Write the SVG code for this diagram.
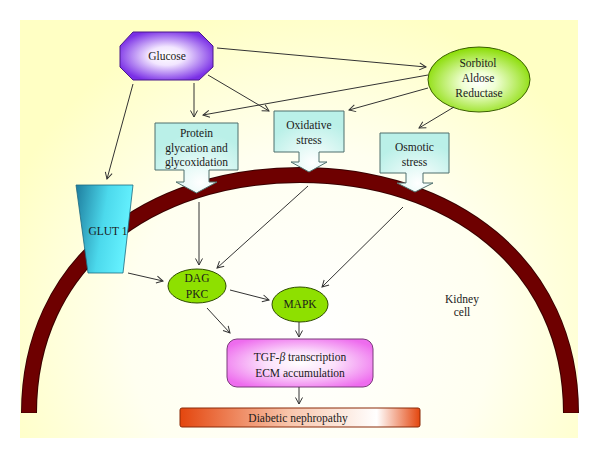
<svg xmlns="http://www.w3.org/2000/svg" width="600" height="459" viewBox="0 0 600 459">
<defs>
<style>
text{font-family:"Liberation Serif","Times New Roman",serif;font-size:11.5px;fill:#1a1a1a;text-anchor:middle}
.ln{stroke:#333;stroke-width:1;fill:none;marker-end:url(#ah)}
.box{fill:url(#gBox);stroke:#4f6f6c;stroke-width:1}
.grn{fill:#8ee000;stroke:#2f4d00;stroke-width:1}
</style>
<marker id="ah" markerUnits="userSpaceOnUse" markerWidth="10" markerHeight="10" refX="7" refY="4" orient="auto" viewBox="0 0 10 8">
<path d="M0.5,0.5 L7,4 L0.5,7.5" fill="none" stroke="#333" stroke-width="1"/>
</marker>
<radialGradient id="gBg" cx="310" cy="330" r="330" gradientUnits="userSpaceOnUse">
<stop offset="0" stop-color="#ffffff"/>
<stop offset="0.55" stop-color="#fffff0"/>
<stop offset="1" stop-color="#ffffc4"/>
</radialGradient>
<radialGradient id="gGlu" cx="0.5" cy="0.5" r="0.55">
<stop offset="0" stop-color="#ffffff"/>
<stop offset="0.35" stop-color="#f2e6ff"/>
<stop offset="1" stop-color="#7a2fe6"/>
</radialGradient>
<radialGradient id="gSor" cx="0.5" cy="0.55" r="0.55">
<stop offset="0" stop-color="#ffffff"/>
<stop offset="0.3" stop-color="#f0ffd4"/>
<stop offset="1" stop-color="#88dc00"/>
</radialGradient>
<radialGradient id="gBox" cx="0.55" cy="0.85" r="0.7">
<stop offset="0" stop-color="#ffffff"/>
<stop offset="1" stop-color="#baf0e8"/>
</radialGradient>
<linearGradient id="gGlut" x1="0" y1="0" x2="1" y2="0.25">
<stop offset="0" stop-color="#1e7d9e"/>
<stop offset="0.55" stop-color="#4cd9ec"/>
<stop offset="1" stop-color="#66f2ff"/>
</linearGradient>
<radialGradient id="gTgf" cx="0.5" cy="0.5" r="0.6">
<stop offset="0" stop-color="#ffffff"/>
<stop offset="0.4" stop-color="#fbe0fb"/>
<stop offset="1" stop-color="#ee6cee"/>
</radialGradient>
<linearGradient id="gDia" x1="0" y1="0" x2="1" y2="0">
<stop offset="0" stop-color="#e4460e"/>
<stop offset="0.45" stop-color="#f8c4aa"/>
<stop offset="0.82" stop-color="#ffffff"/>
<stop offset="1" stop-color="#e4460e"/>
</linearGradient>
</defs>

<rect x="20" y="20" width="558" height="418" fill="url(#gBg)"/>

<g id="membrane">
<path d="M29,413 C29,263 150,175 300,175 C450,175 571,263 571,413" fill="none" stroke="#3a0000" stroke-width="16"/>
<path d="M29,412.5 C29,263 150,175 300,175 C450,175 571,263 571,412.5" fill="none" stroke="#6e0000" stroke-width="14"/>
</g>

<g id="glucose">
<polygon points="133,32 199,32 213,46 213,67 199,80 133,80 120,67 120,46" fill="url(#gGlu)" stroke="#4b1a8a" stroke-width="1"/>
<text x="167" y="60">Glucose</text>
</g>

<g id="sorbitol">
<ellipse cx="479" cy="79.5" rx="51" ry="32.5" fill="url(#gSor)" stroke="#3a5f00" stroke-width="1"/>
<text x="478" y="67">Sorbitol</text>
<text x="478" y="82">Aldose</text>
<text x="479" y="97">Reductase</text>
</g>

<g id="protein">
<path class="box" d="M155,123 H238 V170 H209 V182 H217 L196.5,193 L176,182 H184 V170 H155 Z"/>
<text x="196.5" y="137">Protein</text>
<text x="196.5" y="152">glycation and</text>
<text x="196.5" y="166">glycoxidation</text>
</g>

<g id="oxidative">
<path class="box" d="M274,111 H344 V152 H319 V162 H327 L309,172 L291,162 H299 V152 H274 Z"/>
<text x="309" y="129">Oxidative</text>
<text x="309" y="144">stress</text>
</g>

<g id="osmotic">
<path class="box" d="M380,133 H449 V173 H423 V183 H433 L415,192 L397,183 H406 V173 H380 Z"/>
<text x="414.5" y="151">Osmotic</text>
<text x="414.5" y="166">stress</text>
</g>

<g id="glut1">
<polygon points="76,185 133,185 123,273 88,273" fill="url(#gGlut)" stroke="#1c6a80" stroke-width="0.8"/>
<text x="108" y="235">GLUT 1</text>
</g>

<g id="dagpkc">
<ellipse class="grn" cx="197" cy="286" rx="29" ry="17"/>
<text x="197" y="282">DAG</text>
<text x="197" y="298">PKC</text>
</g>

<g id="mapk">
<ellipse class="grn" cx="300" cy="304.5" rx="28" ry="17.5"/>
<text x="300" y="308">MAPK</text>
</g>

<g id="tgf">
<rect x="227" y="339" width="146" height="48" rx="10" ry="10" fill="url(#gTgf)" stroke="#7a3a7a" stroke-width="1"/>
<text x="300" y="361">TGF-<tspan font-style="italic">β</tspan> transcription</text>
<text x="300" y="377">ECM accumulation</text>
</g>

<g id="nephropathy">
<rect x="180" y="408" width="240" height="19" rx="2" fill="url(#gDia)" stroke="#8a2a08" stroke-width="1"/>
<text x="298" y="422">Diabetic nephropathy</text>
</g>

<g id="kidney">
<text x="462" y="303">Kidney</text>
<text x="462" y="316">cell</text>
</g>

<g id="connectors">
<line class="ln" x1="217" y1="48" x2="426" y2="67"/>
<line class="ln" x1="428" y1="75" x2="203" y2="115"/>
<line class="ln" x1="428" y1="88" x2="349" y2="110"/>
<line class="ln" x1="194" y1="83" x2="194" y2="117"/>
<line class="ln" x1="208" y1="75" x2="269" y2="111"/>
<line class="ln" x1="454" y1="107" x2="419" y2="128"/>
<line class="ln" x1="133" y1="84" x2="107" y2="179"/>
<line class="ln" x1="199" y1="202" x2="199" y2="265"/>
<line class="ln" x1="308" y1="186" x2="217" y2="268"/>
<line class="ln" x1="403" y1="207" x2="322" y2="287"/>
<line class="ln" x1="128" y1="273" x2="163" y2="281"/>
<line class="ln" x1="230" y1="290" x2="269" y2="300"/>
<line class="ln" x1="207" y1="308" x2="230" y2="333"/>
<line class="ln" x1="299" y1="322" x2="299" y2="337"/>
<line class="ln" x1="299" y1="387" x2="299" y2="404"/>
</g>
</svg>
